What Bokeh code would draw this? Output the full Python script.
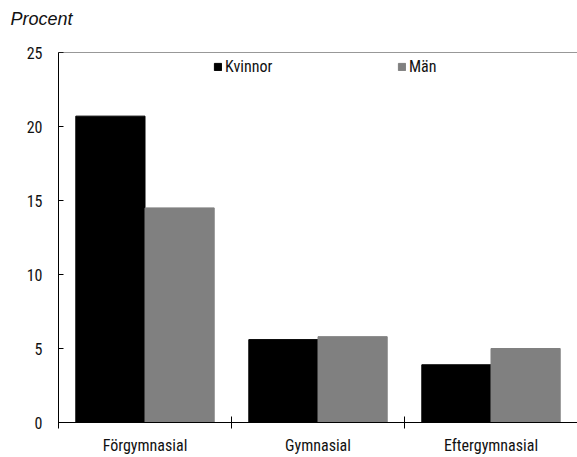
from bokeh.plotting import figure
from bokeh.models import (ColumnDataSource, Range1d, FixedTicker, Legend, LegendItem, Span, Title)
from bokeh.transform import dodge
from bokeh.embed import file_html
from bokeh.resources import INLINE

categories = ["Förgymnasial", "Gymnasial", "Eftergymnasial"]
kvinnor = [20.7, 5.6, 3.9]
man = [14.5, 5.8, 5.0]
series = ["Kvinnor", "Män"]
colors = ["#000000", "#808080"]
y_ticks = [0, 5, 10, 15, 20, 25]
y_title = "Procent"

FONT = "Liberation Sans Narrow, Roboto Condensed, DejaVu Sans Condensed, Arial Narrow, sans-serif"
TXT = "#111111"

n = len(categories)
centers = [i + 0.5 for i in range(n)]
bounds = list(range(n + 1))
src = ColumnDataSource(dict(center=centers, kvinnor=kvinnor, man=man))

p = figure(x_range=Range1d(0, n), y_range=Range1d(0, 25),
           width=577, height=457, output_backend="svg", toolbar_location=None,
           min_border_left=58, min_border_right=0, min_border_top=52, min_border_bottom=34)

r1 = p.vbar(x=dodge("center", -0.2), top="kvinnor", width=0.4,
            source=src, fill_color=colors[0], line_color=colors[0])
r2 = p.vbar(x=dodge("center", 0.2), top="man", width=0.4,
            source=src, fill_color=colors[1], line_color=colors[1])

xaxis = p.xaxis[0]
xaxis.ticker = FixedTicker(ticks=centers, minor_ticks=bounds)
xaxis.major_label_overrides = {c: lab for c, lab in zip(centers, categories)}
xaxis.major_tick_line_color = None
xaxis.major_tick_out = 0
xaxis.major_tick_in = 0
xaxis.minor_tick_in = 6
xaxis.minor_tick_out = 6
xaxis.minor_tick_line_color = "black"
xaxis.axis_line_color = "black"
xaxis.major_label_text_font = FONT
xaxis.major_label_text_font_size = "16px"
xaxis.major_label_text_color = TXT
xaxis.major_label_standoff = 7

p.yaxis.ticker = FixedTicker(ticks=y_ticks)
p.yaxis.major_tick_in = 5
p.yaxis.major_tick_out = 0
p.yaxis.minor_tick_line_color = None
p.yaxis.axis_line_color = "black"
p.yaxis.major_label_text_font = FONT
p.yaxis.major_label_text_font_size = "16px"
p.yaxis.major_label_text_color = TXT
p.yaxis.major_label_standoff = 16

p.xgrid.grid_line_color = None
p.ygrid.grid_line_color = None
p.outline_line_color = None
p.add_layout(Span(location=25, dimension="width", line_color="#333333", line_width=1))

# spacer between the frame and the unit title, then the unit title
p.title.text = ""
p.add_layout(Title(text=" ", text_font_size="1px", standoff=21), "above")
p.add_layout(Title(text=y_title, text_font="Liberation Sans", text_font_style="italic",
                   text_font_size="18px", text_color=TXT, align="left",
                   offset=-48, standoff=0), "above")

for r, name, loc in [(r1, series[0], (155, 346)), (r2, series[1], (339, 346))]:
    leg = Legend(items=[LegendItem(label=name, renderers=[r])], location=loc,
                 padding=0, margin=0, border_line_color=None, background_fill_alpha=0,
                 glyph_width=9, glyph_height=9, label_height=18, label_standoff=3,
                 label_text_font=FONT, label_text_font_size="16px", label_text_color=TXT)
    p.add_layout(leg)

open("out.html", "w").write(file_html(p, INLINE))
